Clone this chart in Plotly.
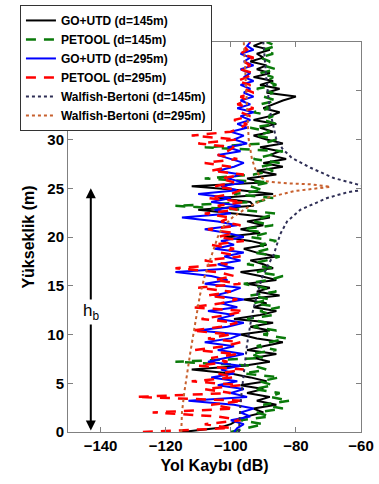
import plotly.graph_objects as go

heights = [0.0, 0.4, 0.8, 1.2, 1.6, 2.0, 2.4, 2.8, 3.2, 3.6,
           4.0, 4.4, 4.8, 5.2, 5.6, 6.0, 6.4, 6.8, 7.2, 7.6,
           8.0, 8.4, 8.8, 9.2, 9.6, 10.0, 10.4, 10.8, 11.2, 11.6,
           12.0, 12.4, 12.8, 13.2, 13.6, 14.0, 14.4, 14.8, 15.2, 15.6,
           16.0, 16.4, 16.8, 17.2, 17.6, 18.0, 18.4, 18.8, 19.2, 19.6,
           20.0, 20.4, 20.8, 21.2, 21.6, 22.0, 22.4, 22.8, 23.2, 23.6,
           24.0, 24.4, 24.8, 25.2, 25.6, 26.0, 26.4, 26.8, 27.2, 27.6,
           28.0, 28.4, 28.8, 29.2, 29.6, 30.0, 30.4, 30.8, 31.2, 31.6,
           32.0, 32.4, 32.8, 33.2, 33.6, 34.0, 34.4, 34.8, 35.2, 35.6,
           36.0, 36.4, 36.8, 37.2, 37.6, 38.0, 38.4, 38.8, 39.2, 39.6,
           40.0]

go_utd_145 = [-115, -104, -100, -98, -95, -90, -93, -86, -92, -88,
              -95, -90, -97, -89, -94, -100, -112, -96, -88, -93,
              -86, -95, -90, -84, -92, -97, -88, -94, -87, -99,
              -91, -86, -93, -89, -96, -85, -92, -88, -95, -86,
              -91, -97, -87, -90, -94, -86, -92, -96, -89, -94,
              -102, -91, -97, -90, -95, -88, -99, -110, -93, -94,
              -104, -87, -97, -112, -90, -95, -86, -92, -84, -90,
              -83, -88, -85, -91, -84, -89, -93, -87, -91, -86,
              -93, -88, -85, -90, -87, -84, -80, -89, -85, -91,
              -87, -93, -88, -92, -89, -94, -90, -92, -88, -93,
              -90]

petool_145 = [-100, -95, -90, -97, -88, -92, -84, -90, -82, -88,
              -85, -93, -87, -91, -85, -96, -89, -93, -117, -90,
              -94, -86, -92, -88, -83, -90, -86, -93, -89, -95,
              -87, -91, -85, -93, -88, -94, -86, -90, -96, -88,
              -84, -92, -87, -95, -89, -85, -93, -88, -91, -86,
              -94, -89, -96, -87, -93, -90, -86, -97, -117, -92,
              -87, -99, -90, -94, -88, -108, -93, -87, -91, -85,
              -93, -88, -84, -108, -90, -86, -92, -88, -94, -86,
              -90, -87, -93, -88, -91, -86, -90, -87, -92, -86,
              -89, -87, -91, -86, -90, -88, -91, -87, -90, -86,
              -89]

go_utd_295 = [-99, -98, -96, -100, -94, -97, -93, -99, -113, -95,
              -100, -96, -104, -98, -106, -99, -103, -97, -107, -101,
              -96, -104, -99, -108, -100, -97, -110, -101, -96, -104,
              -99, -107, -98, -103, -96, -105, -100, -97, -108, -101,
              -106, -117, -99, -104, -97, -102, -96, -105, -99, -103,
              -96, -101, -108, -98, -104, -115, -100, -105, -97, -106,
              -100, -110, -98, -103, -96, -101, -97, -104, -99, -96,
              -100, -104, -97, -101, -95, -99, -96, -100, -95, -98,
              -94, -97, -93, -98, -94, -97, -93, -96, -94, -97,
              -93, -96, -94, -97, -93, -96, -94, -97, -93, -95,
              -94]

petool_295 = [-127, -100, -108, -97, -104, -124, -99, -106, -96, -129,
              -100, -108, -97, -112, -99, -104, -96, -110, -101, -106,
              -98, -111, -102, -97, -107, -100, -112, -103, -98, -109,
              -101, -96, -112, -103, -98, -107, -100, -110, -97, -105,
              -99, -104, -117, -101, -108, -97, -103, -99, -106, -96,
              -104, -99, -107, -97, -103, -100, -108, -98, -104, -96,
              -107, -100, -97, -105, -99, -103, -96, -106, -100, -108,
              -98, -104, -101, -99, -110, -98, -112, -100, -97, -95,
              -99, -94, -97, -93, -98, -95, -97, -93, -96, -94,
              -98, -95, -93, -97, -94, -96, -93, -97, -95, -96,
              -94]

wb145_h = [0, 3, 6, 9, 12, 14, 15.8, 16.9, 18.2, 20.3, 21.6, 22.8, 24.0, 24.6,
           24.95, 25.05, 25.4, 26.05, 27.1, 28.1, 29, 30, 33, 36, 40]
wb145_pl = [-97.5, -97, -96, -95, -93.5, -92, -90.4, -88.9, -86.8, -84.8, -82.7,
            -78.6, -70.4, -64, -57, -57, -61.2, -68.4, -75.5, -81.2, -84, -86,
            -88, -89, -90]

wb295_h = [0, 2, 4, 6, 8, 10, 12, 14, 16, 18, 20, 21, 22, 23, 24, 24.7, 25.15,
           25.4, 25.5, 25.7, 26.2, 27, 28, 30, 33, 36, 40]
wb295_pl = [-115.2, -115, -114.3, -113.5, -112.5, -111.5, -110.5, -109.5, -108,
            -106, -104, -102.5, -99.5, -95, -89, -80.7, -69.4, -75.5, -82.7,
            -88.9, -91, -92.5, -93.5, -94.5, -95, -95.5, -96]

x_ticks = [-140, -120, -100, -80, -60]
y_ticks = [0, 5, 10, 15, 20, 25, 30, 35, 40]
hb_height = 25

FONT = "Arial, Liberation Sans, sans-serif"

fig = go.Figure()
fig.add_trace(go.Scatter(x=go_utd_145, y=heights, mode="lines", name="GO+UTD (d=145m)",
                         line=dict(color="#000000", width=2)))
fig.add_trace(go.Scatter(x=petool_145, y=heights, mode="lines", name="PETOOL (d=145m)",
                         line=dict(color="#0a7a0a", width=2.5, dash="10px,8px")))
fig.add_trace(go.Scatter(x=go_utd_295, y=heights, mode="lines", name="GO+UTD (d=295m)",
                         line=dict(color="#0000ff", width=2)))
fig.add_trace(go.Scatter(x=petool_295, y=heights, mode="lines", name="PETOOL (d=295m)",
                         line=dict(color="#ff0000", width=2.5, dash="10px,8px")))
fig.add_trace(go.Scatter(x=wb145_pl, y=wb145_h, mode="lines", name="Walfish-Bertoni (d=145m)",
                         line=dict(color="#2e2e55", width=2, dash="dot")))
fig.add_trace(go.Scatter(x=wb295_pl, y=wb295_h, mode="lines", name="Walfish-Bertoni (d=295m)",
                         line=dict(color="#c8602e", width=2, dash="dot")))

# double-headed h_b arrow
fig.add_annotation(x=-143, y=hb_height, ax=-143, ay=0, xref="x", yref="y",
                   axref="x", ayref="y", text="", showarrow=True,
                   arrowhead=2, startarrowhead=2, arrowside="end+start",
                   arrowsize=1, startarrowsize=1, arrowwidth=2, arrowcolor="#000")
fig.add_annotation(x=-143, y=12.3, xref="x", yref="y", text="h<sub>b</sub>",
                   showarrow=False, bgcolor="white",
                   font=dict(family=FONT, size=17, color="#000"))

axis_common = dict(showline=True, linecolor="#808080", linewidth=1, mirror="allticks",
                   ticks="inside", ticklen=5, tickcolor="#808080", showgrid=False,
                   zeroline=False, automargin=False,
                   tickfont=dict(family=FONT, size=15, color="#000", weight="bold"))

fig.update_layout(
    width=379, height=484,
    margin=dict(l=68, r=18, t=42, b=52, autoexpand=False),
    paper_bgcolor="white", plot_bgcolor="white",
    xaxis=dict(range=[-150, -60], tickvals=x_ticks,
               title=dict(text="Yol Kaybı (dB)", standoff=6,
                          font=dict(family=FONT, size=16, color="#000", weight="bold")),
               **axis_common),
    yaxis=dict(range=[0, 40], tickvals=y_ticks,
               title=dict(text="Yükseklik (m)", standoff=8,
                          font=dict(family=FONT, size=16, color="#000", weight="bold")),
               **axis_common),
    legend=dict(x=-0.164, y=1.095, xanchor="left", yanchor="top",
                bgcolor="white", bordercolor="#333", borderwidth=1,
                font=dict(family=FONT, size=12, color="#000", weight="bold"),
                tracegroupgap=0),
    showlegend=True,
)

fig.write_html("out.html", config={"displayModeBar": False},
               post_script="document.body.style.margin='0px';")
